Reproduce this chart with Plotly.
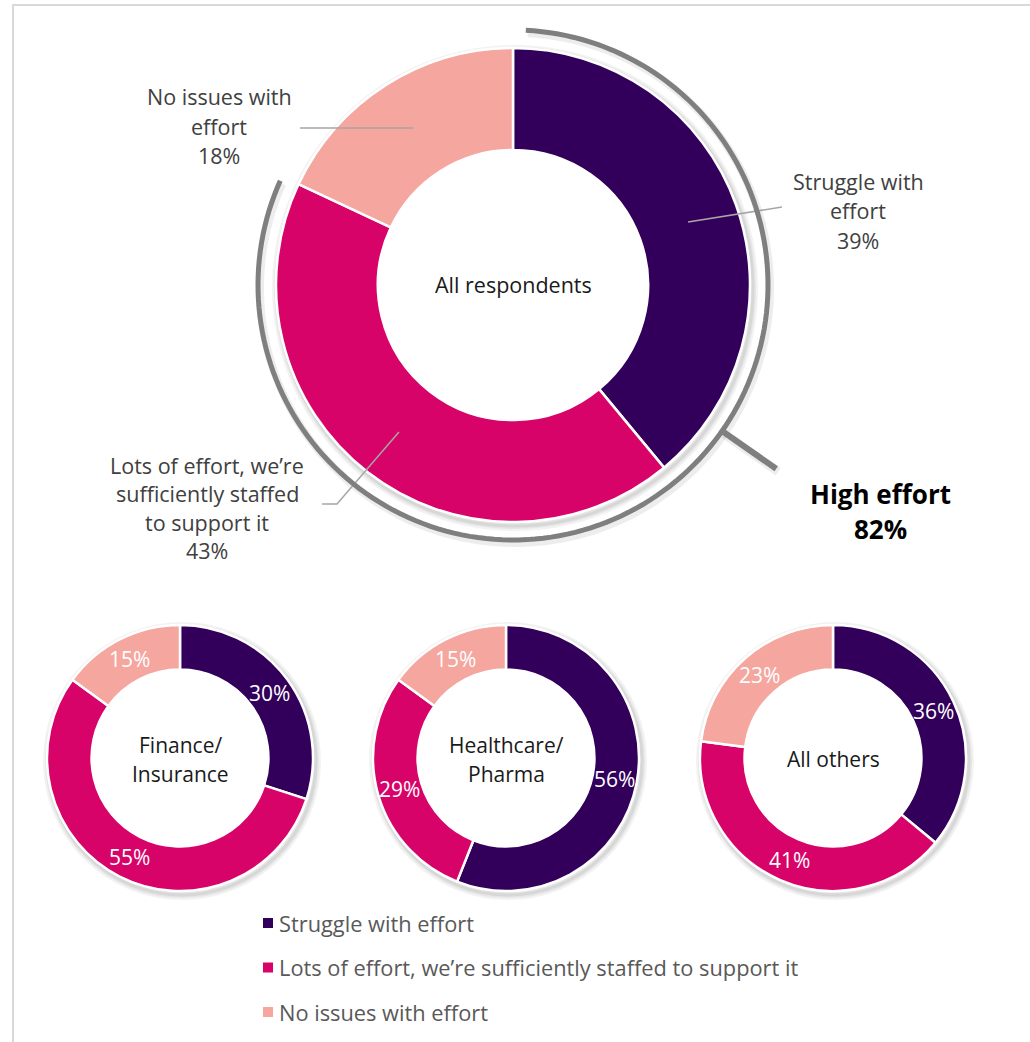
import numpy as np
import plotly.graph_objects as go

# ---- data ----
segments = [
    "Struggle with effort",
    "Lots of effort, we\u2019re sufficiently staffed to support it",
    "No issues with effort",
]
overall = [39, 43, 18]
finance = [30, 55, 15]
healthcare = [56, 29, 15]
others = [36, 41, 23]
high_effort = 82
small_titles = [["Finance/", "Insurance"], ["Healthcare/", "Pharma"], ["All others"]]
overall_title = "All respondents"
overall_labels = [
    ["Struggle with", "effort"],
    ["Lots of effort, we\u2019re", "sufficiently staffed", "to support it"],
    ["No issues with", "effort"],
]

# ---- style ----
colors = ["#32005A", "#D80368", "#F4A69F"]
W, H = 1030, 1042
FONT = "Open Sans"
TXT = "#404040"

BIG = dict(cx=513, cy=285, r=237, hole=0.57)
SMALL_R, SMALL_HOLE = 133, 0.665
small_centers = [(180, 758), (506, 758), (833, 758)]


def px(x):
    return x / W


def py(y):
    return 1 - y / H


def domain(cx, cy, r):
    return dict(x=[(cx - r) / W, (cx + r) / W], y=[1 - (cy + r) / H, 1 - (cy - r) / H])


def polar(cx, cy, r, frac):
    a = 2 * np.pi * frac
    return cx + r * np.sin(a), cy - r * np.cos(a)


def mid_fracs(vals):
    total = float(sum(vals))
    c = np.cumsum([0] + list(vals)) / total
    return [(c[i] + c[i + 1]) / 2 for i in range(len(vals))]


fig = go.Figure()
annotations = []
shapes = []


def text_lines(lines, cx, cy, spacing, size, color, bold=False, anchor="center", family=FONT):
    n = len(lines)
    for i, t in enumerate(lines):
        y = cy + (i - (n - 1) / 2) * spacing
        annotations.append(dict(
            x=px(cx), y=py(y), xref="paper", yref="paper", text=f"<b>{t}</b>" if bold else t,
            showarrow=False, xanchor=anchor, yanchor="middle",
            font=dict(family=family, size=size, color=color),
        ))


def line(pts, color, width, layer="above"):
    path = "M " + " L ".join(f"{px(x):.5f},{py(y):.5f}" for x, y in pts)
    shapes.append(dict(type="path", path=path, xref="paper", yref="paper",
                       line=dict(color=color, width=width), layer=layer))


# frame
shapes.append(dict(type="rect", xref="paper", yref="paper", x0=px(13), x1=px(1045),
                   y0=py(1060), y1=py(5), line=dict(color="#D9D9D9", width=2), layer="below"))


# soft shadows just outside the rings
def shadow(cx, cy, r):
    for op, w in [(0.05, 10), (0.05, 6), (0.06, 3)]:
        rr = r + 1
        shapes.append(dict(type="circle", xref="paper", yref="paper",
                           x0=px(cx - rr + 2), x1=px(cx + rr + 2),
                           y0=py(cy + rr + 3), y1=py(cy - rr + 3),
                           line=dict(color=f"rgba(0,0,0,{op})", width=w), layer="below"))


shadow(BIG["cx"], BIG["cy"], BIG["r"])
for cx, cy in small_centers:
    shadow(cx, cy, SMALL_R)

# main donut
fig.add_trace(go.Pie(
    labels=segments, values=overall, hole=BIG["hole"], sort=False, direction="clockwise",
    rotation=0, textinfo="none", marker=dict(colors=colors, line=dict(color="white", width=2.5)),
    domain=domain(BIG["cx"], BIG["cy"], BIG["r"]), showlegend=False,
))
text_lines([overall_title], BIG["cx"], BIG["cy"], 29, 21.5, "#1A1A1A")

# leader lines + labels for the main donut
mf = mid_fracs(overall)
lead_r = BIG["r"] * (1 + BIG["hole"]) / 2
s0 = polar(BIG["cx"], BIG["cy"], lead_r, mf[0])
line([s0, (782, 207)], "#A6A6A6", 1.5)
text_lines(overall_labels[0] + [f"{overall[0]}%"], 858, 211, 29.5, 21.5, TXT)

s1 = polar(BIG["cx"], BIG["cy"], lead_r, mf[1])
line([s1, (337, 504), (322, 504)], "#A6A6A6", 1.5)
text_lines(overall_labels[1] + [f"{overall[1]}%"], 207, 508, 28.5, 21.5, TXT)

s2 = polar(BIG["cx"], BIG["cy"], lead_r, mf[2])
line([(300, s2[1]), s2], "#A6A6A6", 1.5)
text_lines(overall_labels[2] + [f"{overall[2]}%"], 219, 126, 29.5, 21.5, TXT)

# high-effort bracket arc around struggle + lots
ARC_R = 255
arc_fr = np.linspace(0.008, high_effort / 100 - 0.003, 160)
arc_pts = [polar(BIG["cx"], BIG["cy"], ARC_R, f) for f in arc_fr]
line([(x + 2, y + 3) for x, y in arc_pts], "rgba(0,0,0,0.07)", 8, layer="below")
line(arc_pts, "#7F7F7F", 5)
POINT_FRAC = 0.347
p0 = polar(BIG["cx"], BIG["cy"], ARC_R, POINT_FRAC)
p1 = polar(BIG["cx"], BIG["cy"], ARC_R + 66, POINT_FRAC)
line([(p0[0] + 2, p0[1] + 3), (p1[0] + 2, p1[1] + 3)], "rgba(0,0,0,0.07)", 9, layer="below")
line([p0, p1], "#7F7F7F", 6)
text_lines(["High effort", f"{high_effort}%"], 880, 511, 35, 26, "#000000", bold=True)

# segment donuts
for (cx, cy), vals, title in zip(small_centers, [finance, healthcare, others], small_titles):
    fig.add_trace(go.Pie(
        labels=segments, values=vals, hole=SMALL_HOLE, sort=False, direction="clockwise",
        rotation=0, textinfo="none", marker=dict(colors=colors, line=dict(color="white", width=2.5)),
        domain=domain(cx, cy, SMALL_R), showlegend=False,
    ))
    text_lines(title, cx, cy + 1, 29, 21, "#1A1A1A")
    rr = SMALL_R * (1 + SMALL_HOLE) / 2
    for v, f in zip(vals, mid_fracs(vals)):
        x, y = polar(cx, cy, rr, f)
        annotations.append(dict(
            x=px(x), y=py(y), xref="paper", yref="paper", text=f"{v}%", showarrow=False,
            xanchor="center", yanchor="middle",
            font=dict(family=FONT, size=21, color="white"),
        ))

# legend
for i, (name, c) in enumerate(zip(segments, colors)):
    yc = 923 + i * 44.5
    shapes.append(dict(type="rect", xref="paper", yref="paper", x0=px(263), x1=px(273),
                       y0=py(yc + 5), y1=py(yc - 5), fillcolor=c, line=dict(width=0)))
    annotations.append(dict(
        x=px(277), y=py(yc), xref="paper", yref="paper", text=name, showarrow=False,
        xanchor="left", yanchor="middle", font=dict(family=FONT, size=21.8, color="#595959"),
    ))

fig.update_layout(
    width=W, height=H, margin=dict(l=0, r=0, t=0, b=0),
    paper_bgcolor="white", plot_bgcolor="white",
    shapes=shapes, annotations=annotations,
)

fig.write_html("out.html")
